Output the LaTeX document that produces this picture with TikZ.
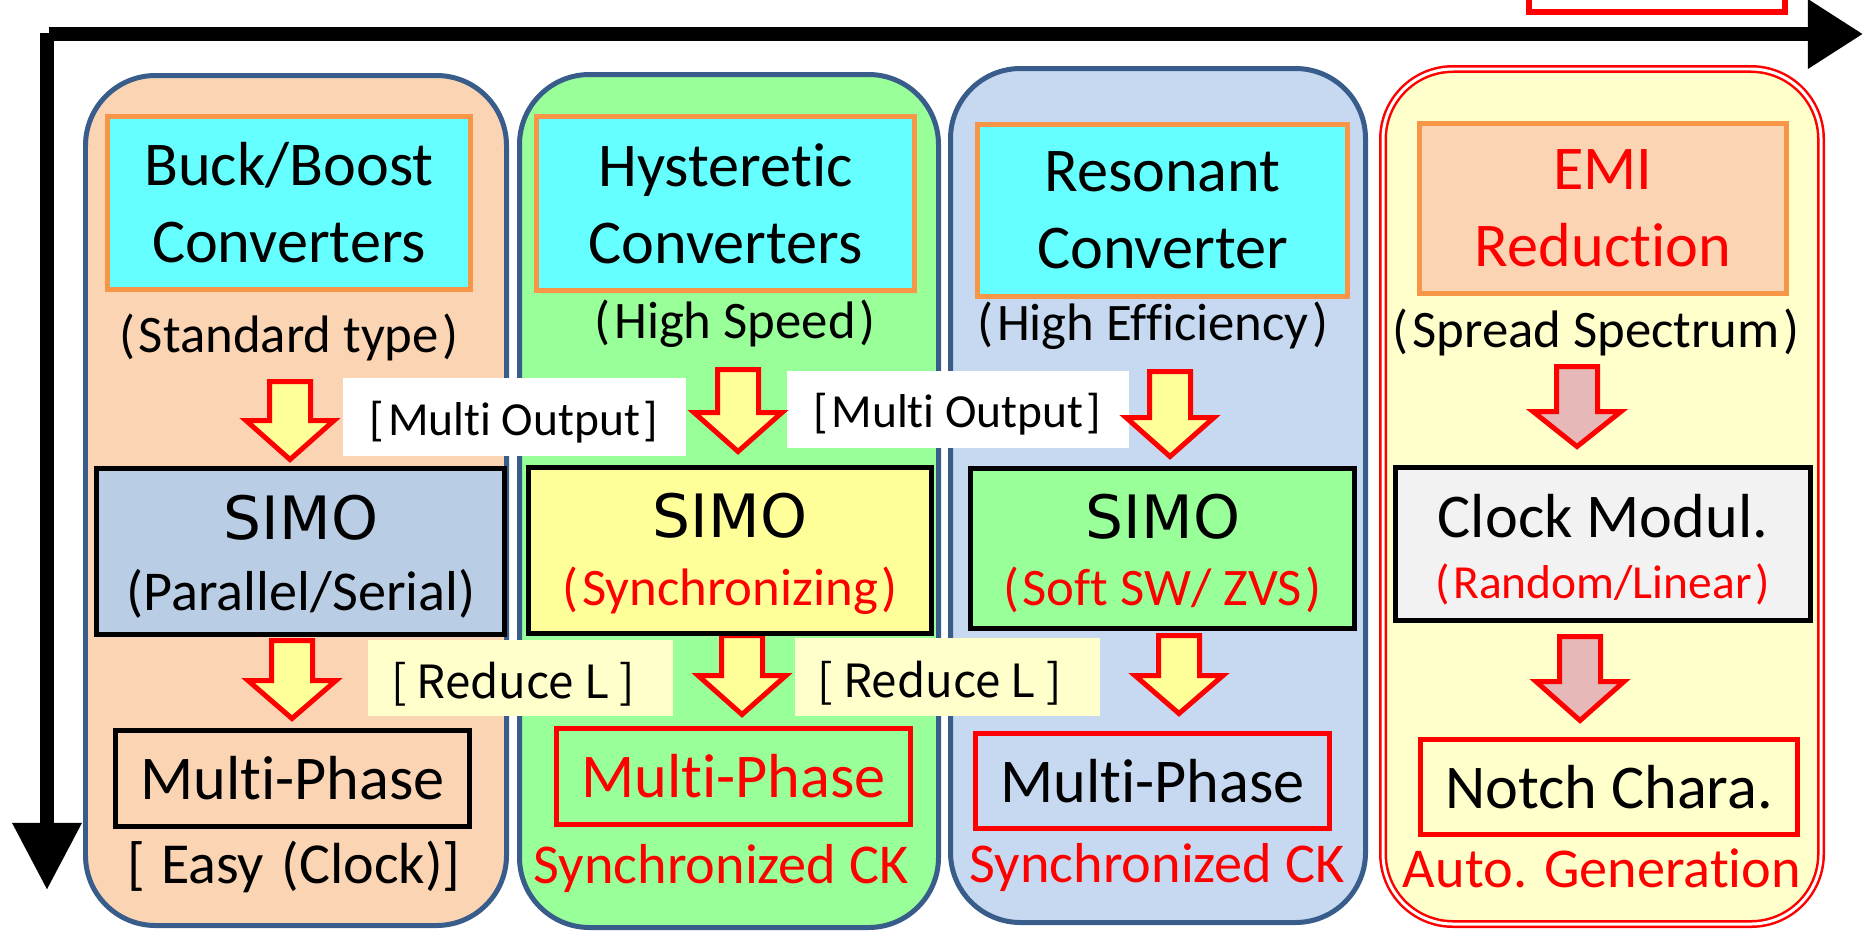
\documentclass[tikz,border=0pt]{standalone}
\usepackage{fontspec}
\setmainfont{Carlito}[Ligatures=NoCommon]
\newfontfamily\gothic{Noto Sans CJK JP}
\newfontfamily\simofont{DejaVu Sans}
\usetikzlibrary{arrows.meta}

\definecolor{panelline}{HTML}{385D8A}
\definecolor{peach}{HTML}{FBD4B4}
\definecolor{mint}{HTML}{99FF99}
\definecolor{skyblue}{HTML}{C6D9F1}
\definecolor{cream}{HTML}{FFFFCC}
\definecolor{aqua}{HTML}{66FFFF}
\definecolor{orangeline}{HTML}{F79646}
\definecolor{steel}{HTML}{B9CDE5}
\definecolor{lemon}{HTML}{FFFF99}
\definecolor{paper}{HTML}{F2F2F2}
\definecolor{rosy}{HTML}{E6B9B8}

% parentheses with a little air inside
\newcommand{\po}{(\kern1pt}
\newcommand{\pc}{\kern1pt)}

% fat down arrow: x, top, shoulder, tip
\newcommand{\blockarrow}[5][lemon]{%
  \draw[arrowline, fill=#1] (#2-20.5,#3) -- (#2+20.5,#3) -- (#2+20.5,#4)
    -- (#2+44,#4) -- (#2,#5) -- (#2-44,#4) -- (#2-20.5,#4) -- cycle;}

\tikzset{
  panel/.style={draw=panelline, line width=1.42pt, rounded corners=0.7cm},
  headbox/.style={draw=orangeline, fill=aqua, line width=1.42pt, inner sep=0pt,
    align=center, font=\fontsize{17.7}{21.9}\selectfont},
  subtext/.style={anchor=base, font=\fontsize{15}{18}\selectfont},
  simobox/.style={draw=black, line width=1.35pt, inner sep=0pt},
  simotext/.style={anchor=base, font=\simofont\fontsize{17}{20}\selectfont},
  modetext/.style={anchor=base, font=\fontsize{15}{18}\selectfont, text=red},
  phasebox/.style={draw=black, line width=1.42pt, inner sep=0pt,
    font=\fontsize{17.7}{21}\selectfont},
  tagbox/.style={inner sep=0pt},
  tagtext/.style={anchor=base, font=\fontsize{13.5}{16}\selectfont},
  reducetext/.style={anchor=base, font=\gothic\fontsize{13}{16}\selectfont},
  foottext/.style={anchor=base, font=\fontsize{16}{19}\selectfont},
  arrowline/.style={draw=red, line width=1.42pt, line join=miter},
  axis/.style={line width=3.7pt},
}

\begin{document}
\begin{tikzpicture}[x=0.01cm, y=-0.01cm]
  \useasboundingbox (0,0) rectangle (1864,930);
  \begin{scope}
  \clip (0,0) rectangle (1864,930);

  % columns
  \draw[panel, fill=peach]   (85.5,75.5)  rectangle (506.5,925.5);
  \draw[panel, fill=mint]    (519.5,74.5) rectangle (938.5,927.5);
  \draw[panel, fill=skyblue] (950.5,68.5) rectangle (1365.5,922.5);
  \draw[draw=red, line width=0.71pt, double=white, double distance=0.85pt,
        fill=cream, rounded corners=0.7cm] (1383,69) rectangle (1821,924);

  % axes
  \coordinate (vstart) at (47,33);
  \coordinate (hstart) at (49,34);
  \draw[axis, -{Triangle[length=0.67cm, width=0.66cm]}] (vstart) -- (47,890);
  \draw[axis, -{Triangle[length=0.55cm, width=0.66cm]}] (hstart) -- (1863,34);
  \draw[red, line width=1.7pt] (1529,-20) rectangle (1785,12);

  % top row
  \node[headbox, minimum width=3.63cm, minimum height=1.73cm] (head1) at (289,203) {Buck/Boost\\Converters};
  \node[headbox, minimum width=3.78cm, minimum height=1.74cm] (head2) at (725.5,203.5) {Hysteretic\\Converters};
  \node[headbox, minimum width=3.70cm, minimum height=1.72cm] (head3) at (1162.5,210.5) {Resonant\\Converter};
  \node[headbox, fill=peach, text=red, minimum width=3.67cm, minimum height=1.70cm] (head4) at (1603,208.5) {EMI\\Reduction};

  \node[subtext] (sub1) at (289,352)  {\po Standard type\pc};
  \node[subtext] (sub2) at (735,338)  {\po High Speed\pc};
  \node[subtext] (sub3) at (1153,340) {\po High Efficiency\pc};
  \node[subtext] (sub4) at (1596,347) {\po Spread Spectrum\pc};

  % tags between the columns
  \node[tagbox, fill=white, minimum width=3.43cm, minimum height=0.78cm] (multi1) at (514.5,417) {};
  \node[tagtext] (multi1t) at (514,435) {[\kern1pt Multi Output\kern1pt]};
  \node[tagbox, fill=white, minimum width=3.42cm, minimum height=0.77cm] (multi2) at (958,409.5) {};
  \node[tagtext] (multi2t) at (957.5,427) {[\kern1pt Multi Output\kern1pt]};
  \node[tagbox, fill=cream, minimum width=3.05cm, minimum height=0.76cm] (reduce1) at (520.5,678) {};
  \node[reducetext] (reduce1t) at (513,698) {[ Reduce L ]};
  \node[tagbox, fill=cream, minimum width=3.05cm, minimum height=0.78cm] (reduce2) at (947.5,677) {};
  \node[reducetext] (reduce2t) at (939.5,697) {[ Reduce L ]};

  % arrows
  \blockarrow{290}{381.5}{420.5}{459.5}
  \blockarrow{738}{369.5}{412.5}{451.5}
  \blockarrow{1170}{371.5}{417.5}{456.5}
  \blockarrow[rosy]{1577}{366.5}{411.5}{446.5}
  \blockarrow{292}{640.5}{680.5}{718.5}
  \blockarrow{742}{635.5}{675.5}{714.5}
  \blockarrow{1179}{635.5}{675.5}{713.5}
  \blockarrow[rosy]{1580}{636.5}{681.5}{720.5}

  % middle row
  \node[simobox, fill=steel, minimum width=4.08cm, minimum height=1.66cm] (simo1) at (300.5,551.5) {};
  \node[simotext] (simo1t) at (301,539) {SIMO};
  \node[anchor=base, font=\fontsize{16}{19}\selectfont] (simo1s) at (301,610) {(Parallel/Serial)};

  \node[simobox, fill=lemon, minimum width=4.03cm, minimum height=1.66cm] (simo2) at (730,550.5) {};
  \node[simotext] (simo2t) at (730,537) {SIMO};
  \node[modetext] (simo2s) at (730,605) {\po Synchronizing\pc};

  \node[simobox, fill=mint, minimum width=3.84cm, minimum height=1.60cm] (simo3) at (1162.5,548.5) {};
  \node[simotext] (simo3t) at (1163,538) {SIMO};
  \node[modetext] (simo3s) at (1162.5,605) {\po Soft SW/ ZVS\pc};

  \node[simobox, fill=paper, minimum width=4.15cm, minimum height=1.53cm] (clock) at (1603,544) {};
  \node[anchor=base, font=\fontsize{17.7}{21}\selectfont] (clockt) at (1603,537) {Clock Modul.};
  \node[modetext, font=\fontsize{13.5}{16}\selectfont] (clocks) at (1602.5,598) {\po Random/Linear\pc};

  % bottom row
  \node[phasebox, minimum width=3.54cm, minimum height=0.96cm] (phase1) at (292.5,778.5) {Multi-Phase};
  \node[phasebox, draw=red, text=red, minimum width=3.54cm, minimum height=0.96cm] (phase2) at (733.5,776.5) {Multi-Phase};
  \node[phasebox, draw=red, minimum width=3.54cm, minimum height=0.95cm] (phase3) at (1152.5,781) {Multi-Phase};
  \node[phasebox, draw=red, minimum width=3.77cm, minimum height=0.95cm] (notch) at (1609,787) {Notch Chara.};

  \node[foottext, font=\fontsize{16.5}{19}\selectfont] (foot1) at (294,883) {[\hspace{4.5pt}Easy\hspace{5pt}(Clock)]};
  \node[foottext, text=red] (foot2) at (721,883)  {Synchronized CK};
  \node[foottext, text=red] (foot3) at (1157,882) {Synchronized CK};
  \node[foottext, text=red] (foot4) at (1602,887) {Auto. Generation};
  \end{scope}
\end{tikzpicture}
\end{document}
